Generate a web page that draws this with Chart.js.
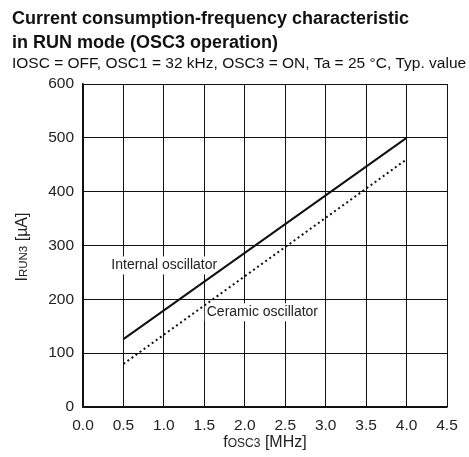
<!DOCTYPE html>
<html>
<head>
<meta charset="utf-8">
<script src="https://cdn.jsdelivr.net/npm/chart.js@4"></script>
<style>
  html, body { margin: 0; padding: 0; background: #fff; }
  canvas { display: block; }
</style>
</head>
<body>
<canvas id="chart" width="469" height="457"></canvas>
<script>
// frequency fOSC3 [MHz]
const freq = [0.5, 4.0];
// IRUN3 [uA]
const internalOsc = [126, 500];
const ceramicOsc = [80, 460];

const xTicks = [0, 0.5, 1, 1.5, 2, 2.5, 3, 3.5, 4, 4.5];
const yTicks = [0, 100, 200, 300, 400, 500, 600];

const seriesNames = ['Internal oscillator', 'Ceramic oscillator'];
// where the in-plot labels sit, in data units
const labelAt = [
    { x: 0.35, y: 263 },
    { x: 1.53, y: 176 }
];

const FONT = '"Liberation Sans", Arial, Helvetica, sans-serif';
const TEXT = '#222';

// draws the title block, axis names with subscripts and series labels
const textPlugin = {
    id: 'texts',
    beforeDatasetsDraw(chart) {
        // series labels with white box over the grid, lines go on top
        const ctx = chart.ctx;
        const xs = chart.scales.x, ys = chart.scales.y;
        ctx.save();
        ctx.textBaseline = 'middle';
        ctx.textAlign = 'left';
        ctx.font = '14px ' + FONT;
        seriesNames.forEach((name, i) => {
            const px = xs.getPixelForValue(labelAt[i].x);
            const py = ys.getPixelForValue(labelAt[i].y);
            const w = ctx.measureText(name).width;
            ctx.fillStyle = '#fff';
            ctx.fillRect(px - 2, py - 9, w + 4, 18);
            ctx.fillStyle = TEXT;
            ctx.fillText(name, px, py);
        });
        ctx.restore();
    },
    afterDraw(chart) {
        const ctx = chart.ctx;
        const xs = chart.scales.x;
        ctx.save();
        ctx.fillStyle = '#111';
        ctx.textBaseline = 'middle';
        ctx.textAlign = 'left';
        ctx.font = 'bold 18px ' + FONT;
        ctx.fillText('Current consumption-frequency characteristic', 12, 19);
        ctx.fillText('in RUN mode (OSC3 operation)', 12, 43);
        ctx.font = '15.5px ' + FONT;
        ctx.fillText('IOSC = OFF, OSC1 = 32 kHz, OSC3 = ON, Ta = 25 \u00B0C, Typ. value', 12, 64);

        // composite axis title: main, subscript, rest
        function drawComposite(parts, cx, cy, rotate) {
            ctx.save();
            ctx.translate(cx, cy);
            if (rotate) ctx.rotate(-Math.PI / 2);
            let total = 0;
            parts.forEach(p => { ctx.font = p.size + 'px ' + FONT; total += ctx.measureText(p.t).width; });
            let x = -total / 2;
            ctx.textAlign = 'left';
            ctx.textBaseline = 'alphabetic';
            ctx.fillStyle = TEXT;
            parts.forEach(p => {
                ctx.font = p.size + 'px ' + FONT;
                ctx.fillText(p.t, x, 6);
                x += ctx.measureText(p.t).width;
            });
            ctx.restore();
        }
        drawComposite([
            { t: 'f', size: 16 },
            { t: 'OSC3', size: 12 },
            { t: ' [MHz]', size: 16 }
        ], (xs.left + xs.right) / 2, 441, false);
        drawComposite([
            { t: 'I', size: 16 },
            { t: 'RUN3', size: 11.5 },
            { t: ' [\u00B5A]', size: 16 }
        ], 21, 247, true);
        ctx.restore();
    }
};

const makeData = (ys) => freq.map((f, i) => ({ x: f, y: ys[i] }));

new Chart(document.getElementById('chart'), {
    type: 'scatter',
    data: {
        datasets: [
            {
                label: seriesNames[0],
                data: makeData(internalOsc),
                showLine: true,
                borderColor: '#111',
                borderWidth: 2,
                pointRadius: 0,
                fill: false
            },
            {
                label: seriesNames[1],
                data: makeData(ceramicOsc),
                showLine: true,
                borderColor: '#111',
                borderWidth: 2,
                borderDash: [2, 3],
                pointRadius: 0,
                fill: false
            }
        ]
    },
    options: {
        responsive: false,
        animation: false,
        events: [],
        layout: { padding: { top: 84, right: 22, left: 0, bottom: 0 } },
        plugins: {
            legend: { display: false },
            tooltip: { enabled: false },
            title: { display: false }
        },
        scales: {
            x: {
                type: 'linear',
                min: 0,
                max: 4.5,
                afterBuildTicks: (s) => { s.ticks = xTicks.map(v => ({ value: v })); },
                afterFit: (s) => { s.height = 50; },
                grid: { color: '#111', lineWidth: 1, drawTicks: false },
                border: { color: '#111', width: 1.5 },
                ticks: {
                    padding: 9,
                    color: TEXT,
                    font: { family: FONT, size: 15.5 },
                    callback: (v) => Number(v).toFixed(1)
                }
            },
            y: {
                type: 'linear',
                min: 0,
                max: 600,
                afterBuildTicks: (s) => { s.ticks = yTicks.map(v => ({ value: v })); },
                afterFit: (s) => { s.width = 83; },
                grid: { color: '#111', lineWidth: 1, drawTicks: false },
                border: { color: '#111', width: 1.5 },
                ticks: {
                    padding: 9,
                    color: TEXT,
                    font: { family: FONT, size: 15.5 },
                    callback: (v) => String(v)
                }
            }
        }
    },
    plugins: [textPlugin]
});
</script>
</body>
</html>
